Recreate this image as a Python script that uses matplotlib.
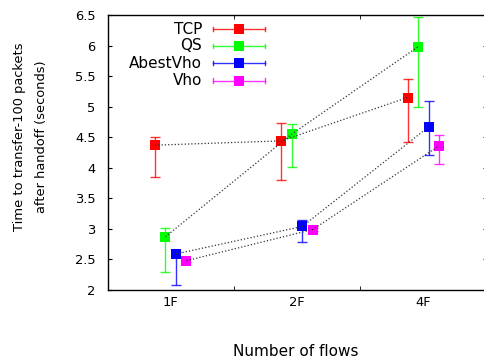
import matplotlib
matplotlib.use("Agg")
import matplotlib.pyplot as plt
from matplotlib.lines import Line2D

# data
flows = ["1F", "2F", "4F"]
names = ["TCP", "QS", "AbestVho", "Vho"]
colors = ["#ff0000", "#00ff00", "#0000ff", "#ff00ff"]

tcp = [4.37, 4.44, 5.15]
tcp_lo = [3.85, 3.80, 4.42]
tcp_hi = [4.50, 4.74, 5.45]

qs = [2.87, 4.55, 5.98]
qs_lo = [2.29, 4.01, 5.00]
qs_hi = [3.02, 4.72, 6.46]

abest = [2.59, 3.04, 4.67]
abest_lo = [2.08, 2.78, 4.21]
abest_hi = [2.62, 3.15, 5.10]

vho = [2.48, 2.99, 4.36]
vho_lo = [2.46, 2.97, 4.07]
vho_hi = [2.50, 3.01, 4.54]

means = [tcp, qs, abest, vho]
lows = [tcp_lo, qs_lo, abest_lo, vho_lo]
highs = [tcp_hi, qs_hi, abest_hi, vho_hi]
offsets = [-0.125, -0.042, 0.042, 0.125]

plt.rcParams["font.family"] = ["DejaVu Sans"]

fig = plt.figure(figsize=(4.84, 3.62), dpi=100)
W, H = 484.0, 362.0
AX_L, AX_W = 107.5, 379.0
ax = fig.add_axes([AX_L / W, 72 / H, AX_W / W, 275 / H])

for i in range(len(names)):
    xs = [k + 1 + offsets[i] for k in range(len(flows))]
    ys = means[i]
    err = [[y - lo for y, lo in zip(ys, lows[i])],
           [hi - y for y, hi in zip(ys, highs[i])]]
    ax.errorbar(xs, ys, yerr=err, fmt="none", ecolor=colors[i], elinewidth=1,
                capsize=3.6, capthick=1, alpha=0.8, zorder=2)
    ax.plot(xs, ys, "s", ms=7.2, color=colors[i], mec=colors[i], mew=0, zorder=3)
    ax.plot(xs, ys, ":", color="0.2", lw=0.9, zorder=4)

ax.set_xlim(0.5, 3.5)
ax.set_ylim(2, 6.5)
ax.set_xticks([1, 2, 3])
ax.set_xticklabels(flows)
ax.set_xticks([1.5, 2.5], minor=True)
ax.tick_params(axis="x", which="major", length=0, pad=4, labelsize=9.4)
ax.tick_params(axis="x", which="minor", direction="in", length=3, top=True, bottom=True)
yt = [2 + 0.5 * k for k in range(10)]
ax.set_yticks(yt)
ax.set_yticklabels(["%g" % v for v in yt])
ax.tick_params(axis="y", direction="in", length=3, pad=8.5, labelsize=9.4, right=True)
for s in ax.spines.values():
    s.set_linewidth(1.0)

# legend drawn by hand: right-aligned labels, sample to the right
rows = [29, 46, 63, 80.5]
for i in range(len(names)):
    yy = (290 - rows[i]) / 275
    x0, x1, xm = (213 - AX_L) / AX_W, (265 - AX_L) / AX_W, (239 - AX_L) / AX_W
    ax.text((202 - AX_L) / AX_W, yy, names[i], transform=ax.transAxes,
            ha="right", va="center", fontsize=11)
    ax.add_line(Line2D([x0, x1], [yy, yy], transform=ax.transAxes,
                       color=colors[i], lw=1, alpha=0.8))
    for xc in (x0, x1):
        ax.add_line(Line2D([xc, xc], [yy - 0.008, yy + 0.008], transform=ax.transAxes,
                           color=colors[i], lw=1, alpha=0.8))
    ax.add_line(Line2D([xm], [yy], transform=ax.transAxes, marker="s", ms=7.2,
                       color=colors[i], mew=0))

fig.text(296 / W, 1 - 356 / H, "Number of flows", ha="center", va="baseline", fontsize=11)
fig.text(20 / W, 1 - 137 / H, "Time to transfer-100 packets", rotation=90,
         ha="center", va="center", fontsize=9.4)
fig.text(42 / W, 1 - 137 / H, "after handoff (seconds)", rotation=90,
         ha="center", va="center", fontsize=9.4)

fig.savefig("out.png", dpi=100)
